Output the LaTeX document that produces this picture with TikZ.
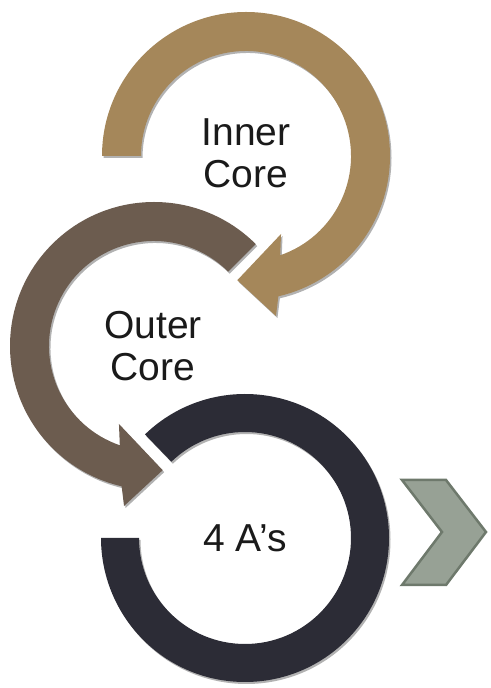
\documentclass[tikz,border=0pt]{standalone}
\usepackage{fontspec}
\setmainfont{Liberation Sans}
\usetikzlibrary{shadows,calc}
\definecolor{goldc}{HTML}{A5875A}
\definecolor{brownc}{HTML}{6C5C4F}
\definecolor{darkc}{HTML}{2C2C36}
\definecolor{chevf}{HTML}{97A195}
\definecolor{chevd}{HTML}{6E796C}
\definecolor{txt}{HTML}{1A1A1A}
\begin{document}
\begin{tikzpicture}[x=1pt,y=1pt,
  ringshape/.style={draw=none, drop shadow={shadow xshift=1.5pt, shadow yshift=-2pt, opacity=0.3, fill=black}},
  lbl/.style={font=\fontsize{39}{42}\selectfont, text=txt, anchor=base, inner sep=0pt}]
\useasboundingbox (0,0) rectangle (490,688);
\coordinate (cg) at (246,532);
\coordinate (cb) at (154,342);
\coordinate (cd) at (245,150);
% gold circular arrow (Inner Core)
\fill[goldc, ringshape] ($(cg)+(180:144)$) arc[start angle=180, end angle=-77, radius=144]
  -- ($(cg)+(-79.4:162.8)$) -- ($(cg)+(-94:124.5)$) -- ($(cg)+(-65.8:85.5)$)
  -- ($(cg)+(-71:105)$) arc[start angle=-71, end angle=180, radius=105] -- cycle;
% brown circular arrow (Outer Core)
\fill[brownc, ringshape] ($(cb)+(45:144)$) arc[start angle=45, end angle=257, radius=144]
  -- ($(cb)+(-100.6:162.8)$) -- ($(cb)+(-86:124.5)$) -- ($(cb)+(-114.2:85.5)$)
  -- ($(cb)+(-109:105)$) arc[start angle=251, end angle=45, radius=105] -- cycle;
% dark ring (4 A's)
\fill[darkc, ringshape] ($(cd)+(134:144)$) arc[start angle=134, end angle=-180, radius=144]
  -- ($(cd)+(180:106)$) arc[start angle=-180, end angle=134, radius=106] -- cycle;
% chevron
\filldraw[fill=chevf, draw=chevd, line width=2.5pt, line join=miter]
  (402,208) -- (446,208) -- (486,156) -- (446,103) -- (402,103) -- (442,156) -- cycle;
% labels
\node[lbl] (in1) at (246,542) {Inner};
\node[lbl] (in2) at (246,500) {Core};
\node[lbl] (out1) at (153,349) {Outer};
\node[lbl] (out2) at (153,307) {Core};
\node[lbl] (aa) at (245,136) {4 A’s};
\end{tikzpicture}
\end{document}
